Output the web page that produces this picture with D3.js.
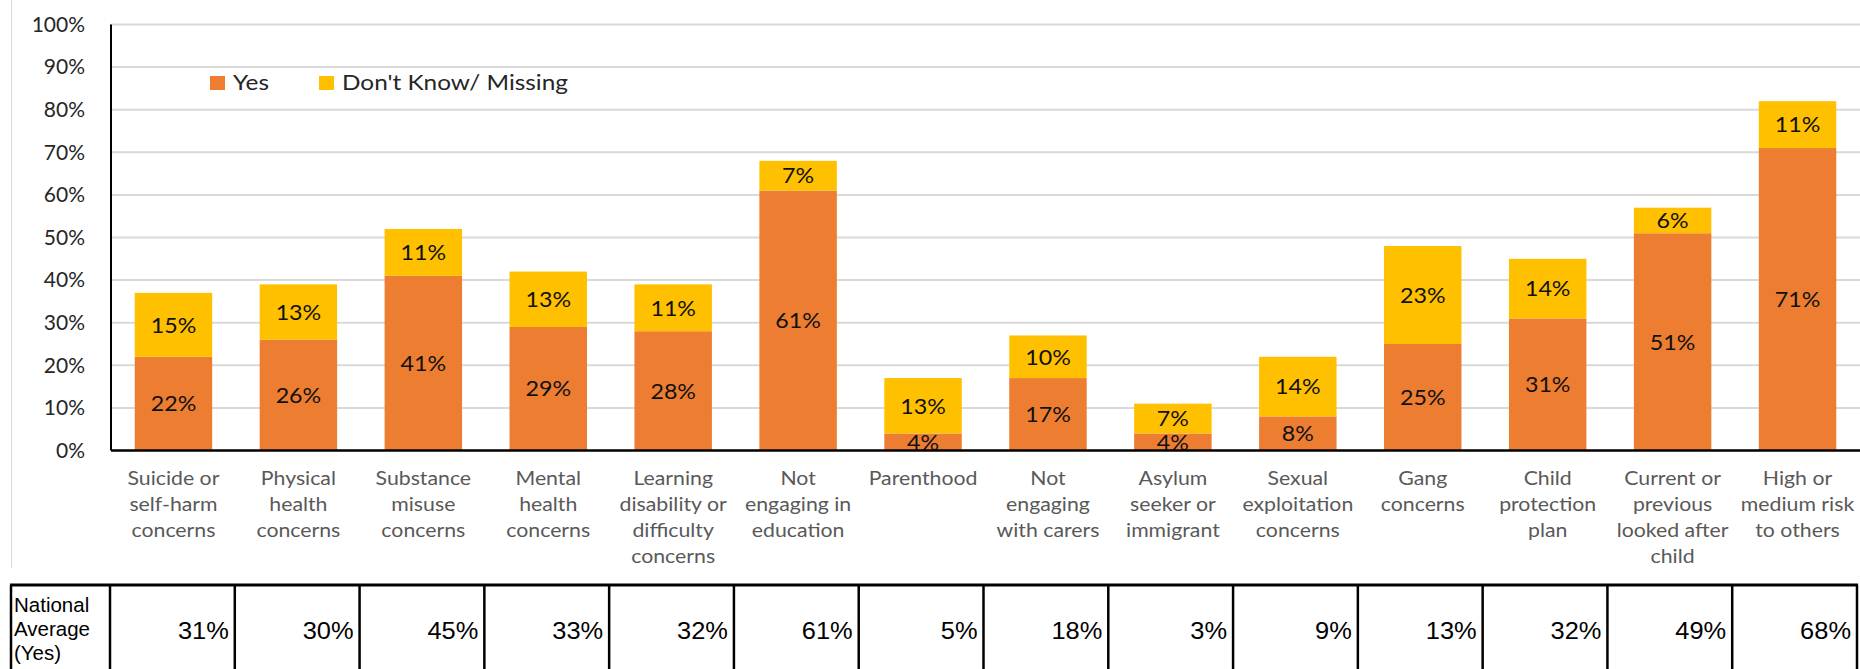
<!DOCTYPE html>
<html>
<head>
<meta charset="utf-8">
<script src="https://cdn.jsdelivr.net/npm/d3@7"></script>
<style>
  html, body { margin: 0; padding: 0; background: #fff; }
  svg { display: block; }
</style>
</head>
<body>
<div id="chart"></div>
<script>
// Flags recorded for each group of young people
const categories = [
  ["Suicide or", "self-harm", "concerns"],
  ["Physical", "health", "concerns"],
  ["Substance", "misuse", "concerns"],
  ["Mental", "health", "concerns"],
  ["Learning", "disability or", "difficulty", "concerns"],
  ["Not", "engaging in", "education"],
  ["Parenthood"],
  ["Not", "engaging", "with carers"],
  ["Asylum", "seeker or", "immigrant"],
  ["Sexual", "exploitation", "concerns"],
  ["Gang", "concerns"],
  ["Child", "protection", "plan"],
  ["Current or", "previous", "looked after", "child"],
  ["High or", "medium risk", "to others"]
];
const yesValues = [22, 26, 41, 29, 28, 61, 4, 17, 4, 8, 25, 31, 51, 71];
const dontKnowValues = [15, 13, 11, 13, 11, 7, 13, 10, 7, 14, 23, 14, 6, 11];
const nationalAverage = [31, 30, 45, 33, 32, 61, 5, 18, 3, 9, 13, 32, 49, 68];
const yTicks = [0, 10, 20, 30, 40, 50, 60, 70, 80, 90, 100];
const seriesNames = ["Yes", "Don't Know/ Missing"];
const tableHeader = ["National", "Average", "(Yes)"];

const W = 1860, H = 669;
const plot = { left: 111, right: 1860, top: 24.5, bottom: 450.5 };
const colors = { yes: "#ED7D31", dk: "#FFC000" };
const FONT = "Lato, 'Open Sans', sans-serif";
const ARIAL = "'Liberation Sans', Arial, sans-serif";

const svg = d3.select("#chart").append("svg").attr("width", W).attr("height", H);

const keys = categories.map((c, i) => i);
const x = d3.scaleBand().domain(keys).range([plot.left, plot.right])
  .paddingInner(0.38).paddingOuter(0.19);
const y = d3.scaleLinear().domain([0, 100]).range([plot.bottom, plot.top]);

// faint chart-area border on the left
svg.append("line").attr("x1", 11.5).attr("x2", 11.5).attr("y1", 0).attr("y2", 568)
  .attr("stroke", "#d9d9d9").attr("stroke-width", 1);

// horizontal gridlines
svg.append("g").selectAll("line").data(yTicks.filter(t => t > 0)).join("line")
  .attr("x1", plot.left).attr("x2", plot.right)
  .attr("y1", d => y(d)).attr("y2", d => y(d))
  .attr("stroke", "#d9d9d9").attr("stroke-width", 2);

// y axis tick labels
const yAxis = d3.axisLeft(y).tickValues(yTicks).tickFormat(d => d + "%").tickSize(0).tickPadding(26);
const gy = svg.append("g").attr("transform", `translate(${plot.left},0)`).call(yAxis);
gy.select(".domain").remove();
gy.selectAll("text").attr("font-family", FONT).attr("font-size", 21).attr("fill", "#262626");

// stacked data
const stackData = keys.map(i => ({ i, yes: yesValues[i], dk: dontKnowValues[i] }));
const stack = d3.stack().keys(["yes", "dk"])(stackData);

const layers = svg.append("g").selectAll("g").data(stack).join("g")
  .attr("fill", d => colors[d.key]);
layers.selectAll("rect").data(d => d).join("rect")
  .attr("x", d => x(d.data.i)).attr("width", x.bandwidth())
  .attr("y", d => y(d[1])).attr("height", d => y(d[0]) - y(d[1]));

// value labels centred inside each segment
const labels = svg.append("g");
stack.forEach(layer => {
  labels.selectAll(null).data(layer).join("text")
    .attr("transform", d => `translate(${x(d.data.i) + x.bandwidth() / 2},${y((d[0] + d[1]) / 2)}) scale(1.08,1)`)
    .attr("dy", "0.36em")
    .attr("text-anchor", "middle")
    .attr("font-family", FONT).attr("font-size", 21.5).attr("fill", "#111")
    .text(d => (d[1] - d[0]) + "%");
});

// axis lines
svg.append("line").attr("x1", plot.left).attr("x2", plot.right)
  .attr("y1", plot.bottom).attr("y2", plot.bottom)
  .attr("stroke", "#000").attr("stroke-width", 2.5);
svg.append("line").attr("x1", plot.left).attr("x2", plot.left)
  .attr("y1", plot.top).attr("y2", plot.bottom)
  .attr("stroke", "#000").attr("stroke-width", 2);

// category labels
const catG = svg.append("g").selectAll("text").data(keys).join("text")
  .attr("text-anchor", "middle")
  .attr("font-family", FONT).attr("font-size", 19).attr("fill", "#595959")
  .attr("transform", d => `translate(${x(d) + x.bandwidth() / 2},485) scale(1.12,1)`);
catG.selectAll("tspan").data(d => categories[d]).join("tspan")
  .attr("x", 0).attr("y", (d, j) => j * 26).text(d => d);

// legend
const legend = svg.append("g");
const legendItems = [
  { name: seriesNames[0], color: colors.yes, x: 210 },
  { name: seriesNames[1], color: colors.dk, x: 319 }
];
legendItems.forEach(it => {
  legend.append("rect").attr("x", it.x).attr("y", 76).attr("width", 15).attr("height", 14).attr("fill", it.color);
  legend.append("text").attr("transform", `translate(${it.x + 23},89.5) scale(1.16,1)`)
    .attr("font-family", FONT).attr("font-size", 21).attr("fill", "#262626")
    .text(it.name);
});

// national average table
const tx = d3.scaleBand().domain(keys).range([110, 1857]);
const table = svg.append("g");
const tTop = 585;
table.append("line").attr("x1", 10).attr("x2", 1858).attr("y1", tTop).attr("y2", tTop)
  .attr("stroke", "#000").attr("stroke-width", 3);
const borders = [11].concat(keys.map(i => tx(i))).concat([1857]);
table.selectAll("line.v").data(borders).join("line").attr("class", "v")
  .attr("x1", d => d).attr("x2", d => d).attr("y1", tTop).attr("y2", H)
  .attr("stroke", "#000").attr("stroke-width", 2.5);
table.append("text").attr("font-family", ARIAL)
  .attr("font-size", 20.5).attr("fill", "#000")
  .selectAll("tspan").data(tableHeader).join("tspan")
  .attr("x", 14).attr("y", (d, j) => 612 + j * 24).text(d => d);
table.selectAll("text.val").data(keys).join("text").attr("class", "val")
  .attr("text-anchor", "end")
  .attr("font-family", ARIAL)
  .attr("font-size", 24).attr("fill", "#000")
  .attr("transform", d => `translate(${tx(d) + tx.bandwidth() - 6},639) scale(1.06,1)`)
  .text(d => nationalAverage[d] + "%");
</script>
</body>
</html>
